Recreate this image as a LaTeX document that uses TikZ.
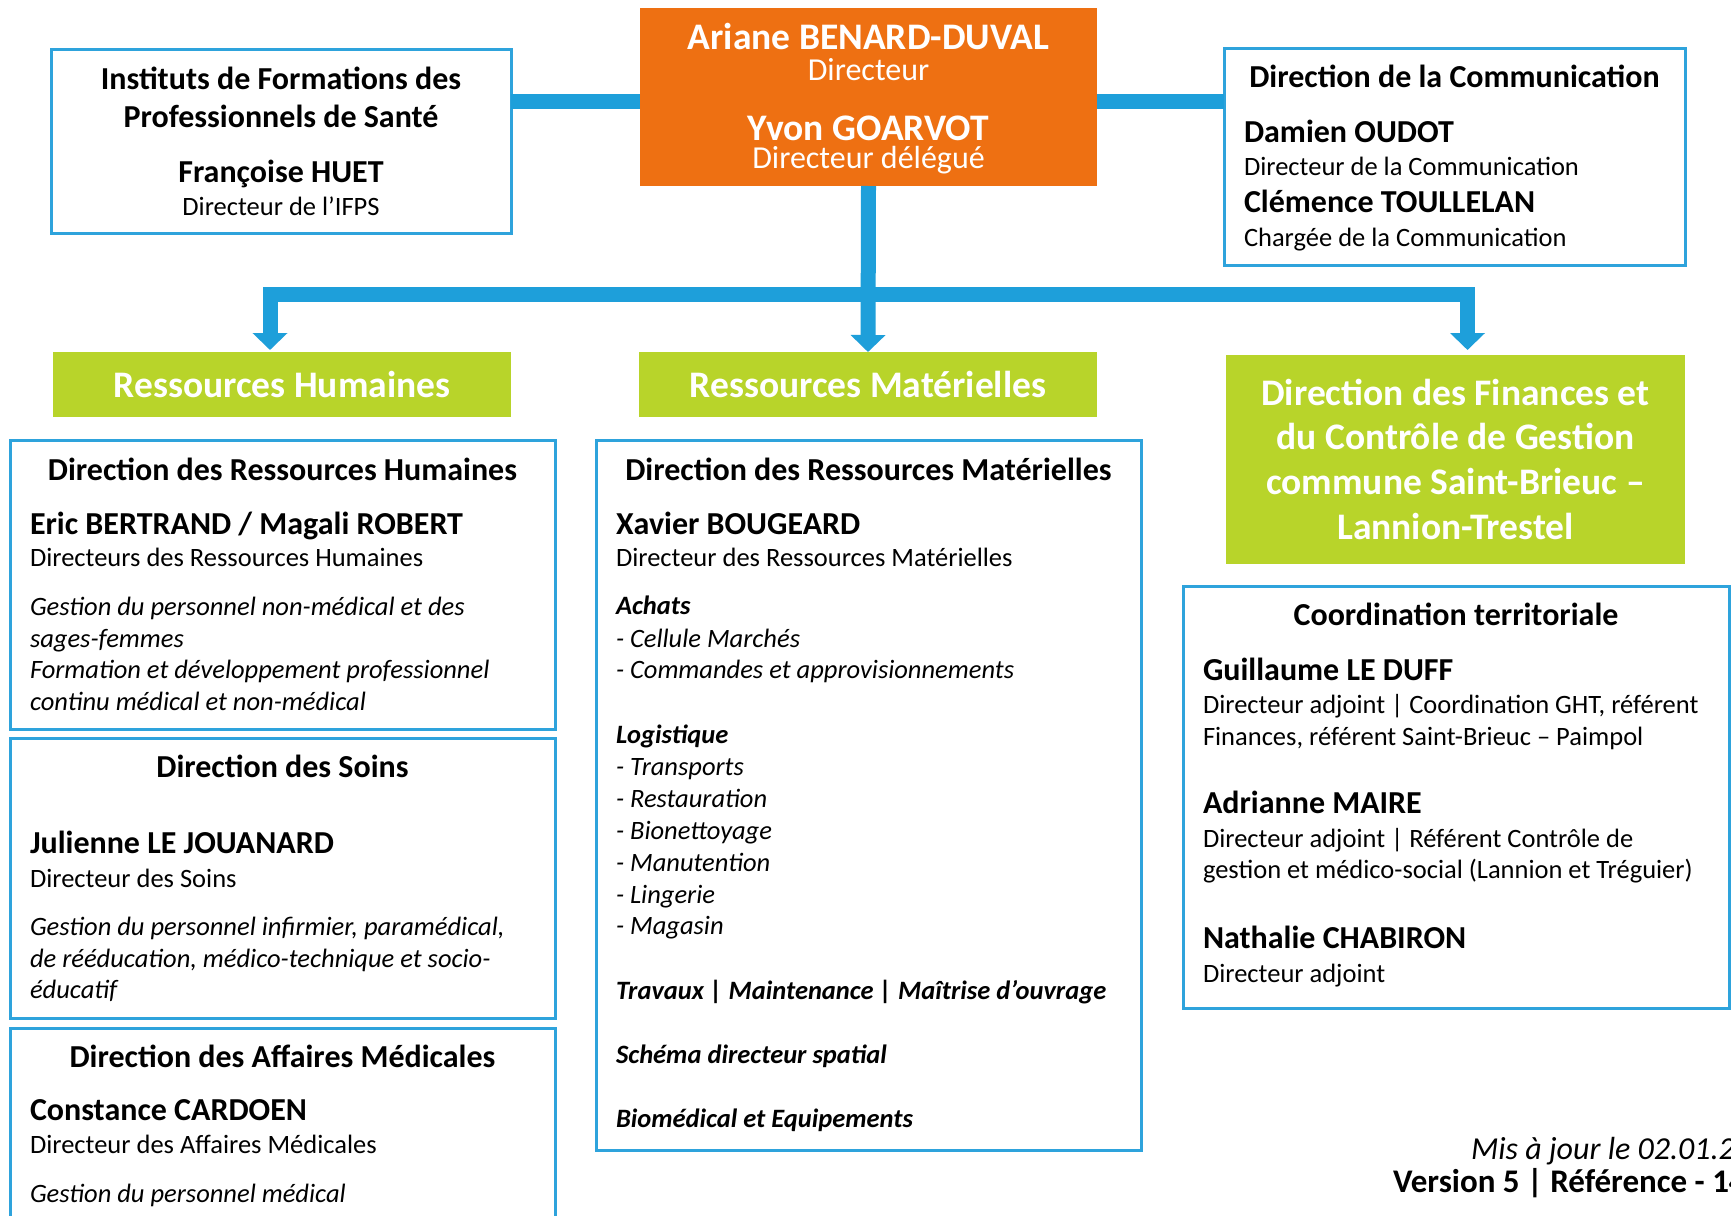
\documentclass[tikz,border=0pt]{standalone}
\usepackage{fontspec}
\setmainfont{Carlito}
\usetikzlibrary{arrows.meta}
\definecolor{cblue}{HTML}{1E9FDA}
\definecolor{bblue}{HTML}{2EA3DC}
\definecolor{corange}{HTML}{EE7012}
\definecolor{cgreen}{HTML}{B8D42A}
\tikzset{
 box/.style={draw=bblue, line width=3pt, fill=white, inner sep=0pt, outer sep=0pt},
 obox/.style={fill=corange, inner sep=0pt, outer sep=0pt},
 gbox/.style={fill=cgreen, inner sep=0pt, outer sep=0pt},
 conn/.style={draw=cblue, line width=15pt},
 arr/.style={-{Triangle[width=34pt,length=17pt]}},
 txt/.style={inner sep=0pt, outer sep=0pt},
 tb/.style={txt, font=\fontsize{32}{38}\selectfont\bfseries},
 rg/.style={txt, font=\fontsize{26.5}{32}\selectfont},
 it/.style={txt, font=\fontsize{26.5}{32}\selectfont\itshape},
 bi/.style={txt, font=\fontsize{26.5}{32}\selectfont\bfseries\itshape},
 gt/.style={txt, text=white, font=\fontsize{37.5}{44}\selectfont\bfseries},
 ot/.style={txt, text=white, font=\fontsize{37.5}{44}\selectfont\bfseries},
 os/.style={txt, text=white, font=\fontsize{32}{38}\selectfont},
 lft/.style={anchor=base west},
 ctr/.style={anchor=base},
}
\begin{document}
\begin{tikzpicture}[x=1pt,y=-1pt]
\useasboundingbox (0,0) rectangle (1731,1215);
\clip (0,0) rectangle (1731,1215);
\fill[white] (0,0) rectangle (1731,1215);

% boxes
\node[obox, minimum width=457pt, minimum height=178pt] (dir) at (868.5,97) {};
\node[box, minimum width=460pt, minimum height=183pt] (ifps) at (281,141.5) {};
\node[box, minimum width=461pt, minimum height=216pt] (comm) at (1454.5,157) {};
\node[gbox, minimum width=458pt, minimum height=65pt] (rh) at (282,384.5) {};
\node[gbox, minimum width=458pt, minimum height=65pt] (rm) at (868,384.5) {};
\node[gbox, minimum width=459pt, minimum height=209pt] (fin) at (1455.5,459.5) {};
\node[box, minimum width=545pt, minimum height=289pt] (drh) at (282.5,584.5) {};
\node[box, minimum width=545pt, minimum height=280pt] (soins) at (282.5,878) {};
\node[box, minimum width=545pt, minimum height=212pt] (dam) at (282.5,1134) {};
\node[box, minimum width=545pt, minimum height=710pt] (drm) at (868.5,795) {};
\node[box, minimum width=546pt, minimum height=422pt] (coord) at (1456,797) {};

% connectors
\coordinate (lb) at (0,101);
\coordinate (hub) at (868,294);
\draw[conn] (ifps.east |- lb) -- (dir.west |- lb);
\draw[conn] (dir.east |- lb) -- (comm.west |- lb);
\draw[conn,arr] (hub) -| ([xshift=-12pt,yshift=2pt]rh.north);
\draw[conn,arr] (hub) -| ([xshift=12pt,yshift=5pt]fin.north);
\draw[conn,arr] (dir.south) -- (rm.north);

% orange
\node[ot, ctr] (d1) at (868.5,49) {Ariane BENARD-DUVAL};
\node[os, ctr] (d2) at (868.5,81) {Directeur};
\node[ot, ctr] (d3) at (868.5,140) {Yvon GOARVOT};
\node[os, ctr] (d4) at (868.5,168) {Directeur délégué};

% IFPS
\node[tb, ctr] (i1) at (281,89) {Instituts de Formations des};
\node[tb, ctr] (i2) at (281,127) {Professionnels de Santé};
\node[tb, ctr] (i3) at (281,182) {Françoise HUET};
\node[rg, ctr] (i4) at (281,215) {Directeur de l’IFPS};

% Communication
\node[tb, ctr] (c1) at (1454.5,88) {Direction de la Communication};
\node[tb, lft] (c2) at (1244,142) {Damien OUDOT};
\node[rg, lft] (c3) at (1244,175) {Directeur de la Communication};
\node[tb, lft] (c4) at (1244,212) {Clémence TOULLELAN};
\node[rg, lft] (c5) at (1244,246) {Chargée de la Communication};

% green headers
\node[gt, ctr] (g1) at (282,397) {Ressources Humaines};
\node[gt, ctr] (g2) at (868,397) {Ressources Matérielles};
\node[gt, ctr] (f1) at (1455.5,405) {Direction des Finances et};
\node[gt, ctr] (f2) at (1455.5,449) {du Contrôle de Gestion};
\node[gt, ctr] (f3) at (1455.5,494) {commune Saint-Brieuc –};
\node[gt, ctr] (f4) at (1455.5,539) {Lannion-Trestel};

% DRH
\node[tb, ctr] (h1) at (282.5,480) {Direction des Ressources Humaines};
\node[tb, lft] (h2) at (30,534) {Eric BERTRAND / Magali ROBERT};
\node[rg, lft] (h3) at (30,566) {Directeurs des Ressources Humaines};
\node[it, lft] (h4) at (30,615) {Gestion du personnel non-médical et des};
\node[it, lft] (h5) at (30,647) {sages-femmes};
\node[it, lft] (h6) at (30,678) {Formation et développement professionnel};
\node[it, lft] (h7) at (30,710) {continu médical et non-médical};

% Soins
\node[tb, ctr] (s1) at (282.5,777) {Direction des Soins};
\node[tb, lft] (s2) at (30,853) {Julienne LE JOUANARD};
\node[rg, lft] (s3) at (30,887) {Directeur des Soins};
\node[it, lft] (s4) at (30,935) {Gestion du personnel infirmier, paramédical,};
\node[it, lft] (s5) at (30,967) {de rééducation, médico-technique et socio-};
\node[it, lft] (s6) at (30,998) {éducatif};

% Affaires medicales
\node[tb, ctr] (a1) at (282.5,1067) {Direction des Affaires Médicales};
\node[tb, lft] (a2) at (30,1120) {Constance CARDOEN};
\node[rg, lft] (a3) at (30,1153) {Directeur des Affaires Médicales};
\node[it, lft] (a4) at (30,1202) {Gestion du personnel médical};

% DRM
\node[tb, ctr] (m1) at (868.5,480) {Direction des Ressources Matérielles};
\node[tb, lft] (m2) at (616,534) {Xavier BOUGEARD};
\node[rg, lft] (m3) at (616,566) {Directeur des Ressources Matérielles};
\node[bi, lft] (m4) at (616,614) {Achats};
\node[it, lft] (m5) at (616,647) {- Cellule Marchés};
\node[it, lft] (m6) at (616,678) {- Commandes et approvisionnements};
\node[bi, lft] (m7) at (616,743) {Logistique};
\node[it, lft] (m8) at (616,775) {- Transports};
\node[it, lft] (m9) at (616,807) {- Restauration};
\node[it, lft] (m10) at (616,839) {- Bionettoyage};
\node[it, lft] (m11) at (616,871) {- Manutention};
\node[it, lft] (m12) at (616,903) {- Lingerie};
\node[it, lft] (m13) at (616,934) {- Magasin};
\node[bi, lft] (m14) at (616,999) {Travaux | Maintenance | Maîtrise d’ouvrage};
\node[bi, lft] (m15) at (616,1063) {Schéma directeur spatial};
\node[bi, lft] (m16) at (616,1127) {Biomédical et Equipements};

% Coordination
\node[tb, ctr] (k1) at (1456,625) {Coordination territoriale};
\node[tb, lft] (k2) at (1203,680) {Guillaume LE DUFF};
\node[rg, lft] (k3) at (1203,713) {Directeur adjoint | Coordination GHT, référent};
\node[rg, lft] (k4) at (1203,745) {Finances, référent Saint-Brieuc – Paimpol};
\node[tb, lft] (k5) at (1203,813) {Adrianne MAIRE};
\node[rg, lft] (k6) at (1203,847) {Directeur adjoint | Référent Contrôle de};
\node[rg, lft] (k7) at (1203,878) {gestion et médico-social (Lannion et Tréguier)};
\node[tb, lft] (k8) at (1203,948) {Nathalie CHABIRON};
\node[rg, lft] (k9) at (1203,982) {Directeur adjoint};

% footer
\node[txt, lft, font=\fontsize{32}{38}\selectfont\itshape] (up) at (1471,1159) {Mis à jour le 02.01.2};
\node[txt, lft, font=\fontsize{33}{39}\selectfont\bfseries] (ver) at (1393,1192) {Version 5 | Référence - 14};
\end{tikzpicture}
\end{document}
